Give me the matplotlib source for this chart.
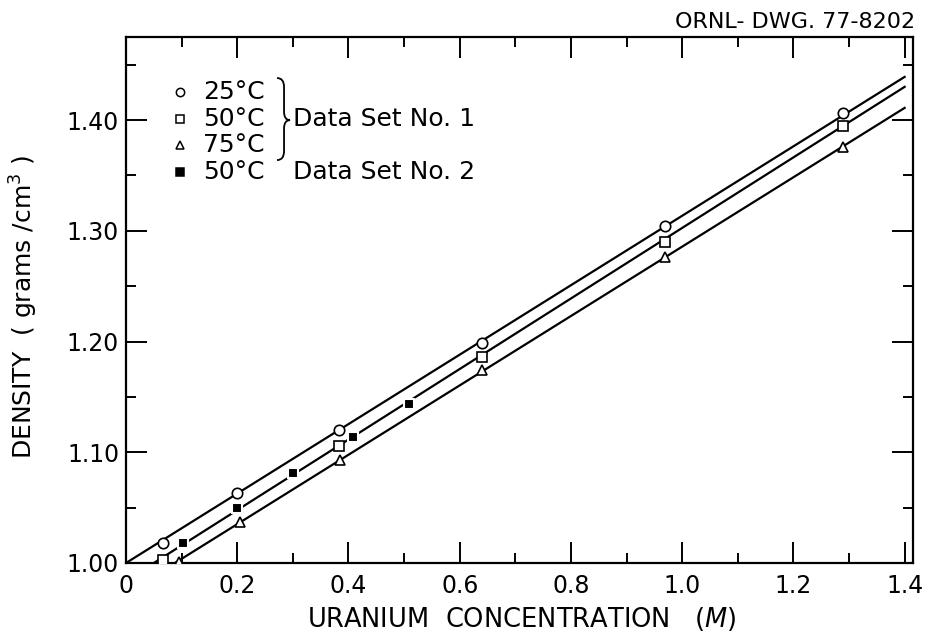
import matplotlib
matplotlib.use('Agg')
import matplotlib.pyplot as plt
from matplotlib.path import Path
from matplotlib.patches import PathPatch
from matplotlib.ticker import MultipleLocator

# 数据集1：各温度下的密度测量点
x_25 = [0.067, 0.2, 0.383, 0.64, 0.969, 1.29]
y_25 = [1.018, 1.063, 1.120, 1.199, 1.304, 1.406]
x_50 = [0.067, 0.383, 0.64, 0.969, 1.29]
y_50 = [1.003, 1.106, 1.186, 1.290, 1.395]
x_75 = [0.095, 0.205, 0.385, 0.64, 0.969, 1.29]
y_75 = [1.001, 1.037, 1.093, 1.174, 1.276, 1.376]

# 数据集2：50°C
x_set2 = [0.103, 0.2, 0.30, 0.408, 0.508]
y_set2 = [1.018, 1.050, 1.081, 1.114, 1.144]

# 拟合直线的端点
fit_x_25 = [0.0, 1.4]
fit_y_25 = [1.000, 1.439]
fit_x_50 = [0.05, 1.4]
fit_y_50 = [1.000, 1.430]
fit_x_75 = [0.088, 1.4]
fit_y_75 = [1.000, 1.411]

x_ticks = [0, 0.2, 0.4, 0.6, 0.8, 1.0, 1.2, 1.4]
x_tick_labels = ['0', '0.2', '0.4', '0.6', '0.8', '1.0', '1.2', '1.4']
y_ticks = [1.00, 1.10, 1.20, 1.30, 1.40]
y_tick_labels = ['1.00', '1.10', '1.20', '1.30', '1.40']

legend_labels = ['25°C', '50°C', '75°C', '50°C']

plt.rcParams['font.family'] = ['DejaVu Sans']
plt.rcParams['mathtext.fontset'] = 'dejavusans'

fig = plt.figure(figsize=(9.3, 6.34), dpi=100)
ax = fig.add_axes([0.1355, 0.112, 0.8462, 0.8296])

lw = 1.6
for fx, fy in [(fit_x_25, fit_y_25), (fit_x_50, fit_y_50), (fit_x_75, fit_y_75)]:
    ax.plot(fx, fy, color='black', lw=lw, zorder=2)

mk = dict(linestyle='none', markeredgecolor='black', markeredgewidth=1.2, zorder=3)
ax.plot(x_25, y_25, marker='o', markersize=7.5, markerfacecolor='white', **mk)
ax.plot(x_50, y_50, marker='s', markersize=7, markerfacecolor='white', **mk)
ax.plot(x_75, y_75, marker='^', markersize=7.5, markerfacecolor='white', **mk)
ax.plot(x_set2, y_set2, marker='s', markersize=7.5, markerfacecolor='black',
        linestyle='none', markeredgecolor='white', markeredgewidth=1.5, zorder=4)

ax.set_xlim(0, 1.415)
ax.set_ylim(1.00, 1.475)
ax.set_xticks(x_ticks, x_tick_labels)
ax.set_yticks(y_ticks, y_tick_labels)
ax.xaxis.set_minor_locator(MultipleLocator(0.1))
ax.yaxis.set_minor_locator(MultipleLocator(0.05))
ax.tick_params(which='both', direction='in', top=True, right=True, width=1.4)
ax.tick_params(which='major', length=15, labelsize=17)
ax.tick_params(axis='x', which='major', pad=8)
ax.tick_params(axis='y', which='major', pad=5)
ax.tick_params(which='minor', length=7.5)
for s in ax.spines.values():
    s.set_linewidth(1.6)

ax.set_xlabel('URANIUM  CONCENTRATION   ($\\mathit{M}$)', fontsize=18.5)
ax.set_ylabel('DENSITY  ( grams /cm$^3$ )', fontsize=18)
ax.xaxis.set_label_coords(0.503, -0.080)
ax.yaxis.set_label_coords(-0.109, 0.487)

# 手绘图例
lx, tx = 0.0686, 0.098
rows = [0.895, 0.844, 0.795, 0.743]
markers = ['o', 's', '^', 's']
faces = ['white', 'white', 'white', 'black']
for r, m, f, lab in zip(rows, markers, faces, legend_labels):
    ax.plot([lx], [r], marker=m, markersize=6, markerfacecolor=f,
            markeredgecolor='black', markeredgewidth=1.1, transform=ax.transAxes)
    ax.text(tx, r, lab, transform=ax.transAxes, fontsize=18, va='center', ha='left')
ax.text(0.212, rows[1], 'Data Set No. 1', transform=ax.transAxes, fontsize=18,
        va='center', ha='left')
ax.text(0.212, rows[3], 'Data Set No. 2', transform=ax.transAxes, fontsize=18,
        va='center', ha='left')

# 花括号
bx0, bx1, bx2 = 0.1919, 0.2008, 0.2084
verts = [(bx0, 0.922), (bx1, 0.922), (bx1, 0.905),
         (bx1, 0.858),
         (bx1, 0.842), (bx2, 0.842),
         (bx1, 0.842), (bx1, 0.826),
         (bx1, 0.783),
         (bx1, 0.766), (bx0, 0.766)]
codes = [Path.MOVETO, Path.CURVE3, Path.CURVE3, Path.LINETO,
         Path.CURVE3, Path.CURVE3, Path.CURVE3, Path.CURVE3,
         Path.LINETO, Path.CURVE3, Path.CURVE3]
ax.add_patch(PathPatch(Path(verts, codes), transform=ax.transAxes,
                       facecolor='none', edgecolor='black', lw=1.3))

fig.text(0.984, 0.965, 'ORNL- DWG. 77-8202', ha='right', va='center', fontsize=16)

fig.savefig('out.png', dpi=100)
